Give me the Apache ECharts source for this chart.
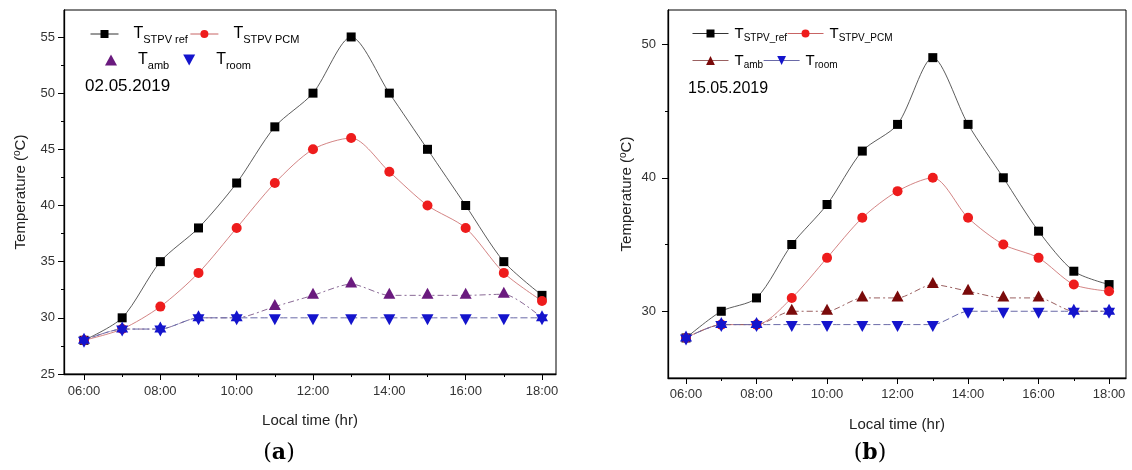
<!DOCTYPE html>
<html><head><meta charset="utf-8">
<script src="https://cdn.jsdelivr.net/npm/echarts@6/dist/echarts.min.js"></script>
<style>html,body{margin:0;padding:0;background:#fff}#c{width:1132px;height:470px}</style>
</head><body><div id="c"></div>
<script>
// ---------- data ----------
const hours = [6,7,8,9,10,11,12,13,14,15,16,17,18];
const refA  = [28,30,35,38,42,47,50,55,50,45,40,35,32];
const pcmA  = [28,29,31,34,38,42,45,46,43,40,38,34,31.5];
const ambA  = [28,29,29,30,30,31,32,33,32,32,32,32.1,30];
const roomA = [28,29,29,30,30,30,30,30,30,30,30,30,30];
const refB  = [28,30,31,35,38,42,44,49,44,40,36,33,32];
const pcmB  = [28,29,29,31,34,37,39,40,37,35,34,32,31.5];
const ambB  = [28,29,29,30,30,31,31,32,31.5,31,31,30,30];
const roomB = [28,29,29,29,29,29,29,29,30,30,30,30,30];
const xMajor = [6,8,10,12,14,16,18];
const xMinor = [7,9,11,13,15,17];
const yMajorA = [25,30,35,40,45,50,55];
const yMinorA = [27.5,32.5,37.5,42.5,47.5,52.5];
const yMajorB = [30,40,50];
const yMinorB = [35,45];
const dateA = '02.05.2019';
const dateB = '15.05.2019';
const panelA = 'a', panelB = 'b';

const FONT = 'Liberation Sans, Arial, sans-serif';
const SERIF = 'DejaVu Serif, Liberation Serif, serif';
const C = {ref:'#000000', refLine:'#333333', pcm:'#ee1c1c', pcmLine:'#c86464',
  ambA:'#6a1a7e', ambALine:'#8a6a96', ambB:'#7a0a0a', ambBLine:'#9a6060',
  room:'#1414cc', roomLine:'#6a6aa8'};
const DOWN = 'path://M0,0 L10,0 L5,9 Z';
const pair = arr => hours.map((h,i)=>[h,arr[i]]);
const fmtH = v => (v<10?'0':'')+v+':00';

const subs = {
  refA:'STPV ref', pcmA:'STPV PCM', ambA:'amb', roomA:'room',
  refB:'STPV_ref', pcmB:'STPV_PCM', ambB:'amb', roomB:'room'
};

function xAxes(gi, min, max, margin, nameGap){
  return [
    {type:'value', gridIndex:gi, min, max, position:'bottom',
     name:'Local time (hr)', nameLocation:'middle', nameGap,
     nameTextStyle:{fontFamily:FONT, fontSize:15, color:'#222'},
     axisLine:{show:true, lineStyle:{color:'#000', width:1.3}},
     axisTick:{show:true, inside:false, length:6, customValues:xMajor, lineStyle:{color:'#000', width:1}},
     axisLabel:{show:true, customValues:xMajor, formatter:fmtH, margin, fontFamily:FONT, fontSize:13, color:'#333'},
     splitLine:{show:false}},
    {type:'value', gridIndex:gi, min, max, position:'bottom',
     axisLine:{show:false},
     axisTick:{show:true, inside:false, length:3, customValues:xMinor, lineStyle:{color:'#000', width:1}},
     axisLabel:{show:false}, splitLine:{show:false}}
  ];
}
function yAxes(gi, min, max, major, minor, margin, nameGap){
  return [
    {type:'value', gridIndex:gi, min, max, position:'left',
     name:'Temperature ({sup|o}C)', nameLocation:'middle', nameGap, nameRotate:90,
     nameTextStyle:{fontFamily:FONT, fontSize:15, color:'#222',
       rich:{sup:{fontFamily:FONT, fontSize:10, color:'#222', padding:[0,0,8,0]}}},
     axisLine:{show:true, lineStyle:{color:'#000', width:1.3}},
     axisTick:{show:true, inside:false, length:6, customValues:major, lineStyle:{color:'#000', width:1}},
     axisLabel:{show:true, customValues:major, margin, fontFamily:FONT, fontSize:13, color:'#333'},
     splitLine:{show:false}},
    {type:'value', gridIndex:gi, min, max, position:'left',
     axisLine:{show:false},
     axisTick:{show:true, inside:false, length:3, customValues:minor, lineStyle:{color:'#000', width:1}},
     axisLabel:{show:false}, splitLine:{show:false}}
  ];
}

function series(gi, ref, pcm, amb, room, ambCol, ambLine, k){
  const xi = gi*2, yi = gi*2;
  return [
    {name:'ref'+k, type:'line', xAxisIndex:xi, yAxisIndex:yi, data:pair(ref), smooth:0.28,
     symbol:'rect', symbolSize:9, itemStyle:{color:C.ref},
     lineStyle:{color:C.refLine, width:0.8}, z:3},
    {name:'pcm'+k, type:'line', xAxisIndex:xi, yAxisIndex:yi, data:pair(pcm), smooth:0.28,
     symbol:'circle', symbolSize:10, itemStyle:{color:C.pcm},
     lineStyle:{color:C.pcmLine, width:0.8}, z:3},
    {name:'amb'+k, type:'line', xAxisIndex:xi, yAxisIndex:yi, data:pair(amb), smooth:0.25,
     symbol:'triangle', symbolSize:[12,11], symbolOffset:[0,-2],
     itemStyle:{color:(p)=> amb[p.dataIndex]===room[p.dataIndex] ? C.room : ambCol},
     lineStyle:{color:ambLine, width:1, type:[6,3,2,3]}, z:4},
    {name:'room'+k, type:'line', xAxisIndex:xi, yAxisIndex:yi, data:pair(room), smooth:0.25,
     symbol:DOWN, symbolSize:[12,11], symbolOffset:[0,2], itemStyle:{color:C.room},
     lineStyle:{color:C.roomLine, width:1, type:[7,3]}, z:5}
  ];
}

const richLeg = (tf, sf, padT) => ({
  t:{fontFamily:FONT, fontSize:tf, color:'#000', padding:[0,0,0,padT]},
  s:{fontFamily:FONT, fontSize:sf, color:'#000', padding:[sf,0,0,0]}
});
const legFmt = n => '{t|T}{s|' + subs[n] + '}';

const option = {
  backgroundColor:'#fff',
  animation:false,
  grid:[
    {left:64, top:10, width:492, height:364, show:true, borderColor:'#000', borderWidth:1, backgroundColor:'transparent'},
    {left:668, top:10, width:458, height:368, show:true, borderColor:'#000', borderWidth:1, backgroundColor:'transparent'}
  ],
  xAxis:[...xAxes(0, 5.476, 18.367, 11, 39), ...xAxes(1, 5.489, 18.48, 10, 39)],
  yAxis:[...yAxes(0, 25, 57.4, yMajorA, yMinorA, 9, 34), ...yAxes(1, 25, 52.57, yMajorB, yMinorB, 12, 32)],
  legend:[
    {data:['refA','pcmA'], left:85, top:21, orient:'horizontal', itemWidth:28, itemHeight:10, itemGap:2,
     formatter:legFmt, textStyle:{rich:richLeg(16,11,10)}, lineStyle:{type:'solid', width:1}, selectedMode:false},
    {data:[{name:'ambA', icon:'triangle', itemStyle:{color:C.ambA}},{name:'roomA', icon:DOWN, itemStyle:{color:C.room}}],
     left:100, top:47, itemWidth:12, itemHeight:11, itemGap:14,
     formatter:legFmt, textStyle:{rich:richLeg(16,11,16)}, selectedMode:false},
    {data:['refB','pcmB'], left:687, top:21, itemWidth:36, itemHeight:10, itemGap:0,
     formatter:legFmt, textStyle:{rich:richLeg(15,10,1)}, lineStyle:{type:'solid', width:1}, selectedMode:false},
    {data:[{name:'ambB', itemStyle:{color:C.ambB}},{name:'roomB', itemStyle:{color:C.room}}], left:687, top:48, itemWidth:36, itemHeight:11, itemGap:0,
     formatter:legFmt, textStyle:{rich:richLeg(15,10,1)}, lineStyle:{type:'solid', width:1}, selectedMode:false}
  ],
  graphic:[
    {type:'text', left:85, top:78, style:{text:dateA, fontFamily:FONT, fontSize:17, fill:'#000'}},
    {type:'text', left:688, top:81, style:{text:dateB, fontFamily:FONT, fontSize:16, fill:'#000'}},
    {type:'text', x:279, y:453, style:{text:'({b|'+panelA+'})', align:'center', verticalAlign:'middle',
      fontFamily:SERIF, fontSize:22, fill:'#000',
      rich:{b:{fontFamily:SERIF, fontSize:22, fontWeight:'bold', fill:'#000'}}}},
    {type:'text', x:870, y:453, style:{text:'({b|'+panelB+'})', align:'center', verticalAlign:'middle',
      fontFamily:SERIF, fontSize:22, fill:'#000',
      rich:{b:{fontFamily:SERIF, fontSize:22, fontWeight:'bold', fill:'#000'}}}}
  ],
  series:[
    ...series(0, refA, pcmA, ambA, roomA, C.ambA, C.ambALine, 'A'),
    ...series(1, refB, pcmB, ambB, roomB, C.ambB, C.ambBLine, 'B')
  ]
};
const chart = echarts.init(document.getElementById('c'), null, {renderer:'canvas'});
chart.setOption(option);
</script></body></html>
